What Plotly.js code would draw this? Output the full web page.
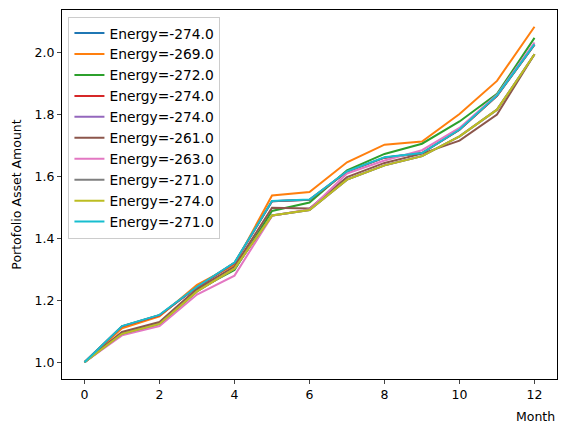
<!DOCTYPE html>
<html>
<head>
<meta charset="utf-8">
<script src="https://cdn.plot.ly/plotly-3.0.1.min.js"></script>
<style>html,body{margin:0;padding:0;background:#fff;}#chart{width:567px;height:432px;}</style>
</head>
<body>
<div id="chart"></div>
<script>
const months = [0,1,2,3,4,5,6,7,8,9,10,11,12];
const energies = ["-274.0","-269.0","-272.0","-274.0","-274.0","-261.0","-263.0","-271.0","-274.0","-271.0"];
const colors = ["#1f77b4","#ff7f0e","#2ca02c","#d62728","#9467bd","#8c564b","#e377c2","#7f7f7f","#bcbd22","#17becf"];

const s0 = [1.0,1.116,1.152,1.243,1.321,1.520,1.525,1.616,1.661,1.676,1.751,1.861,2.026];
const s1 = [1.0,1.110,1.148,1.250,1.315,1.539,1.550,1.646,1.703,1.713,1.802,1.909,2.084];
const s2 = [1.0,1.095,1.126,1.233,1.298,1.489,1.516,1.620,1.673,1.706,1.778,1.867,2.048];
const s3 = [1.0,1.116,1.152,1.243,1.321,1.520,1.525,1.616,1.661,1.676,1.751,1.861,2.026];
const s4 = [1.0,1.092,1.124,1.229,1.303,1.474,1.492,1.590,1.636,1.666,1.730,1.816,1.995];
const s5 = [1.0,1.098,1.130,1.237,1.309,1.499,1.497,1.598,1.644,1.674,1.716,1.800,1.995];
const s6 = [1.0,1.087,1.117,1.219,1.280,1.473,1.494,1.610,1.652,1.685,1.757,1.864,2.033];
const s7 = [1.0,1.092,1.124,1.229,1.303,1.474,1.492,1.590,1.636,1.666,1.730,1.816,1.995];
const s8 = [1.0,1.092,1.124,1.229,1.303,1.474,1.492,1.590,1.636,1.666,1.730,1.816,1.995];
const s9 = [1.0,1.117,1.153,1.244,1.322,1.521,1.526,1.617,1.662,1.676,1.752,1.862,2.027];
const series = [s0,s1,s2,s3,s4,s5,s6,s7,s8,s9];

const traces = series.map((ys,i)=>({
  x: months, y: ys, type:'scatter', mode:'lines',
  name: 'Energy=' + energies[i],
  line:{color:colors[i], width:2}
}));

const font = {family:'DejaVu Sans, sans-serif', size:12.5, color:'#000'};
const layout = {
  width:567, height:432,
  margin:{l:62, r:10, t:10, b:53},
  paper_bgcolor:'#fff', plot_bgcolor:'#fff',
  font: font,
  showlegend:true,
  legend:{x:0.013, y:0.982, xanchor:'left', yanchor:'top',
    bgcolor:'rgba(255,255,255,0.8)', bordercolor:'#cccccc', borderwidth:1,
    font:{family:'DejaVu Sans, sans-serif', size:13.8, color:'#000'}, tracegroupgap:0},
  xaxis:{range:[-0.6,12.6], tickvals:[0,2,4,6,8,10,12], ticks:'outside', ticklen:4,
    showgrid:false, zeroline:false, showline:true, linecolor:'#000', linewidth:1, mirror:true,
    tickfont:font},
  yaxis:{range:[0.946,2.138], tickvals:[1.0,1.2,1.4,1.6,1.8,2.0], tickformat:'.1f',
    ticks:'outside', ticklen:4, showgrid:false, zeroline:false, showline:true,
    linecolor:'#000', linewidth:1, mirror:true, tickfont:font,
    title:{text:'Portofolio Asset Amount', font:font, standoff:10}},
  annotations:[{text:'Month', xref:'paper', yref:'paper', x:1, y:0, xanchor:'right', yanchor:'top',
    yshift:-28, showarrow:false, font:font}]
};
Plotly.newPlot('chart', traces, layout, {displayModeBar:false, staticPlot:true});
</script>
</body>
</html>
